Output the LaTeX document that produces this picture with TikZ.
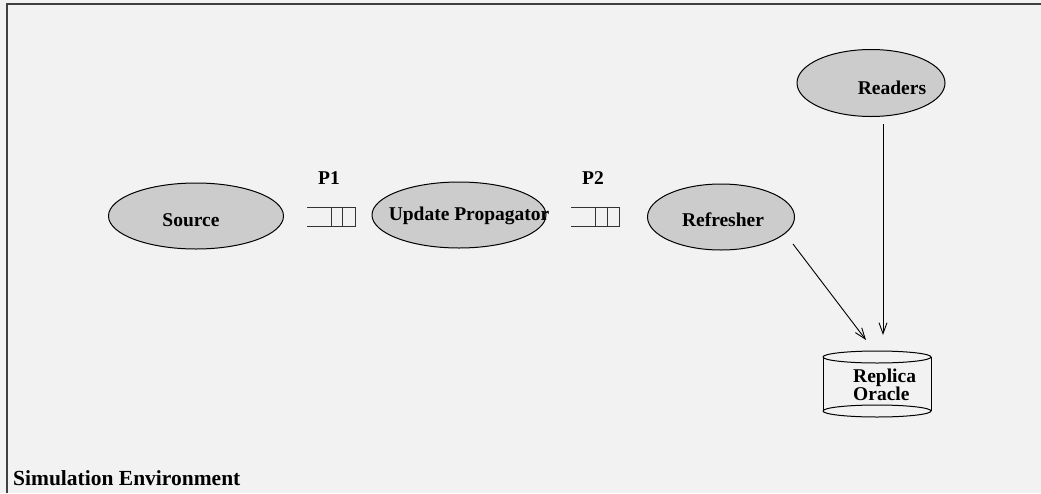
\documentclass[tikz,border=0pt]{standalone}
\usepackage{fontspec}
\setmainfont{Liberation Serif}
\usetikzlibrary{arrows.meta,shapes.geometric}
\definecolor{bg}{HTML}{F2F2F2}
\definecolor{procgray}{HTML}{CCCCCC}
\begin{document}
\begin{tikzpicture}[x=1pt,y=-1pt,
  proc/.style={draw=black,fill=procgray,ellipse,line width=1pt,inner sep=0pt},
  lbl/.style={font=\fontsize{19.5}{22}\selectfont\bfseries,inner sep=0pt,anchor=base},
  lblw/.style={lbl,anchor=base west},
  arr/.style={-{Straight Barb[length=11pt,width=8pt]},line width=0.9pt,black},
  queue/.style={line width=1pt,draw=black!80},
  frame/.style={line width=1.6pt,draw=black!75}]
\useasboundingbox (0,0) rectangle (1041,493);
\fill[bg] (0,0) rectangle (1041,493);
\draw[frame] (7,493) -- (7,4) -- (1041,4);

% processes
\node[proc,minimum width=175pt,minimum height=66pt] (src) at (196,216) {};
\node[lbl] (srct) at (191,226) {Source};
\node[proc,minimum width=174pt,minimum height=66pt] (upd) at (459,215) {};
\node[lbl] (updt) at (469,220) {Update Propagator};
\node[proc,minimum width=147pt,minimum height=66pt] (ref) at (721,217) {};
\node[lbl] (reft) at (723,226) {Refresher};
\node[proc,minimum width=148pt,minimum height=67pt] (rdr) at (871,83) {};
\node[lbl] (rdrt) at (892,94) {Readers};

% queues
\draw[queue] (307,207) -- (355,207) -- (355,226) -- (307,226);
\draw[queue] (331,207) -- (331,226) (342,207) -- (342,226);
\node[lbl] (p1) at (329,184) {P1};
\draw[queue] (571,207) -- (619,207) -- (619,226) -- (571,226);
\draw[queue] (595,207) -- (595,226) (607,207) -- (607,226);
\node[lbl] (p2) at (593,184) {P2};

% database cylinder
\draw[line width=1pt] (823,357) -- (823,411) (931,357) -- (931,411);
\draw[line width=1pt] (877,357) ellipse [x radius=54pt,y radius=6pt];
\draw[line width=1pt] (877,411) ellipse [x radius=54pt,y radius=6pt];
\node[lblw] (rep) at (853,382) {Replica};
\node[lblw] (ora) at (853,400) {Oracle};
\coordinate (cyltop1) at (866,340);
\coordinate (cyltop2) at (883,335);

% connectors
\coordinate (refout) at (793,244);
\coordinate (rdrout) at (883,124);
\draw[arr] (refout) -- (cyltop1);
\draw[arr] (rdrout) -- (cyltop2);

\node[font=\fontsize{21.5}{24}\selectfont\bfseries,inner sep=0pt,anchor=base west] (env) at (13,485) {Simulation Environment};
\end{tikzpicture}
\end{document}
